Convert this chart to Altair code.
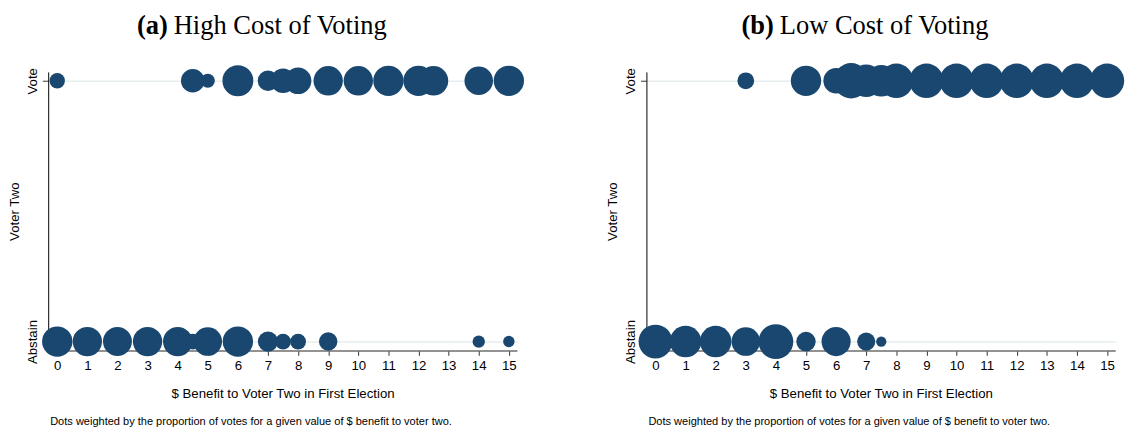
import altair as alt
import pandas as pd

# ---- data ----
ticks_x = list(range(16))

high_vote_x = [0, 4.5, 5, 6, 7, 7.5, 8, 9, 10, 11, 12, 12.5, 14, 15]
high_vote_w = [0.20, 0.47, 0.17, 0.81, 0.36, 0.51, 0.60, 0.73, 0.73, 0.78, 0.78, 0.73, 0.69, 0.78]
high_abstain_x = [0, 1, 2, 3, 4, 4.5, 5, 6, 7, 7.5, 8, 9, 14, 15]
high_abstain_w = [0.78, 0.73, 0.71, 0.73, 0.73, 0.21, 0.69, 0.78, 0.35, 0.21, 0.21, 0.29, 0.13, 0.11]

low_vote_x = [3, 5, 6, 6.5, 7, 7.5, 8, 9, 10, 11, 12, 13, 14, 15]
low_vote_w = [0.24, 0.78, 0.55, 1.06, 0.89, 0.84, 1.0, 1.0, 1.0, 1.0, 1.0, 1.0, 1.0, 1.0]
low_abstain_x = [0, 1, 2, 3, 4, 5, 6, 7, 7.5]
low_abstain_w = [0.97, 0.84, 0.84, 0.69, 1.03, 0.32, 0.72, 0.28, 0.09]

x_title = "$ Benefit to Voter Two in First Election"
y_title = "Voter Two"
footnote = "Dots weighted by the proportion of votes for a given value of $ benefit to voter two."

COLOR = "#1a476f"
SANS = "Liberation Sans"
SERIF = "Liberation Serif"
W, H = 478, 284


def panel(vx, vw, ax, aw, tag, name, tag_x, name_x):
    df = pd.DataFrame({
        "benefit": vx + ax,
        "vote": [1] * len(vx) + [0] * len(ax),
        "weight": vw + aw,
    })
    pts = alt.Chart(df).mark_circle(color=COLOR, opacity=1).encode(
        x=alt.X("benefit:Q",
                scale=alt.Scale(domain=[-0.3, 15.27], nice=False, zero=False),
                axis=alt.Axis(values=ticks_x, format="d", title=x_title,
                              grid=False, domainColor="#6e6e6e", domainWidth=1.5,
                              tickColor="#333333", tickSize=5, labelPadding=3,
                              titlePadding=16, zindex=0)),
        y=alt.Y("vote:Q",
                scale=alt.Scale(domain=[-0.034, 1.034], nice=False, zero=False),
                axis=alt.Axis(values=[0, 1],
                              labelExpr="datum.value >= 0.5 ? 'Vote' : 'Abstain'",
                              labelAngle=270, labelAlign="center", labelBaseline="bottom",
                              grid=True, gridColor="#e6eef0", gridWidth=1.5,
                              domainColor="#000000", tickColor="#333333", tickSize=6,
                              labelPadding=3, title=y_title, titlePadding=4, zindex=0)),
        size=alt.Size("weight:Q", scale=alt.Scale(domain=[0, 1], range=[0, 1225]),
                      legend=None),
    )
    tag_t = alt.Chart(pd.DataFrame({"t": [tag]})).mark_text(
        font=SERIF, fontSize=27, fontWeight="bold", align="right", baseline="middle",
        color="black").encode(text="t:N", x=alt.value(tag_x), y=alt.value(-46.5))
    name_t = alt.Chart(pd.DataFrame({"t": [name]})).mark_text(
        font=SERIF, fontSize=27, align="left", baseline="middle",
        color="black").encode(text="t:N", x=alt.value(name_x), y=alt.value(-46.5))
    foot = alt.Chart(pd.DataFrame({"t": [footnote]})).mark_text(
        font=SANS, fontSize=11.25, align="left", baseline="middle",
        color="black").encode(text="t:N", x=alt.value(2), y=alt.value(357))
    return alt.layer(pts, tag_t, name_t, foot).properties(width=W, height=H)


left = panel(high_vote_x, high_vote_w, high_abstain_x, high_abstain_w,
             "(a)", "High Cost of Voting", 122, 128)
right = panel(low_vote_x, low_vote_w, low_abstain_x, low_abstain_w,
              "(b)", "Low Cost of Voting", 130, 136)

chart = alt.hconcat(left, right, spacing=83).properties(
    padding={"left": 0, "top": 0, "right": 0, "bottom": 0}
).configure_view(stroke=None).configure_axis(
    labelFont=SANS, titleFont=SANS, labelFontSize=13.5, titleFontSize=13.5,
    labelColor="black", titleColor="black", titleFontWeight="normal"
)

chart.save("out.html", embed_options={"renderer": "svg", "actions": False})
